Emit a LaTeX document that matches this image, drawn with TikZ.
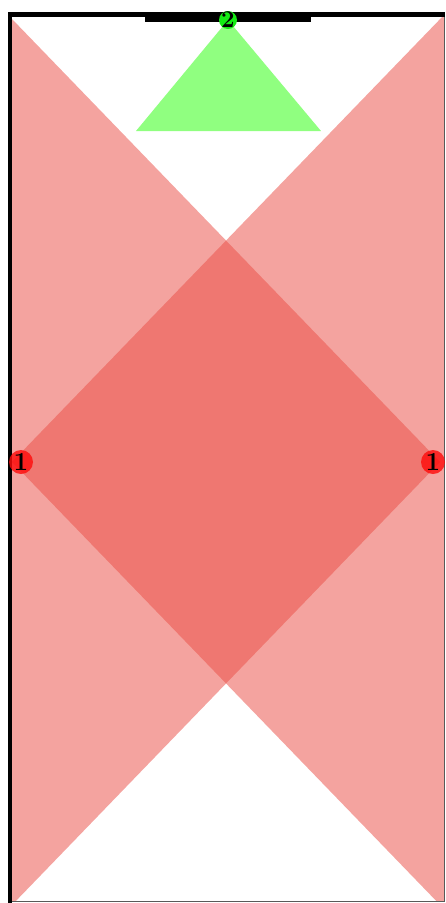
\documentclass[tikz,border=0pt]{standalone}
\usepackage{tikz}

\definecolor{conered}{RGB}{234,79,71}
\definecolor{conegreen}{RGB}{144,255,128}
\definecolor{lampgreen}{RGB}{20,235,20}
\definecolor{lampred}{RGB}{255,10,10}

\tikzset{
  cone/.style={fill=conered, fill opacity=0.52},
  wall/.style={fill=black},
  lamp/.style={circle, inner sep=0pt, text=black,
    font=\fontsize{26}{26}\selectfont\bfseries},
  lampone/.style={lamp, minimum size=24pt, inner sep=-2pt, fill=lampred,
    fill opacity=0.8, text opacity=1},
  lamptwo/.style={lamp, minimum size=18pt, inner sep=-4pt, fill=lampgreen,
    font=\fontsize{24}{24}\selectfont\bfseries}
}

\begin{document}
\begin{tikzpicture}[x=1pt,y=-1pt]
  \useasboundingbox (0,0) rectangle (445,903);

  % light cones of the two wall lamps
  \begin{scope}
    \clip (12,17) rectangle (444,900);
    \fill[cone] (12,462) -- (445,14) -- (445,910) -- cycle;
    \fill[cone] (440,462) -- (12,19) -- (12,905) -- cycle;
  \end{scope}
  % cone of the ceiling lamp
  \fill[conegreen] (228,20) -- (136,131) -- (321,131) -- cycle;

  % walls
  \draw[gray!70!black, thin] (444,17) -- (444,901) -- (12,901);
  \fill[wall] (8,12) rectangle (12,903);
  \fill[wall] (8,12) rectangle (445,17);
  \fill[wall] (145,12) rectangle (311,22);

  % lamps
  \node[lampone] (lampL) at (21,462) {1};
  \node[lampone] (lampR) at (433,462) {1};
  \node[lamptwo] (lampT) at (228,20) {2};
\end{tikzpicture}
\end{document}
